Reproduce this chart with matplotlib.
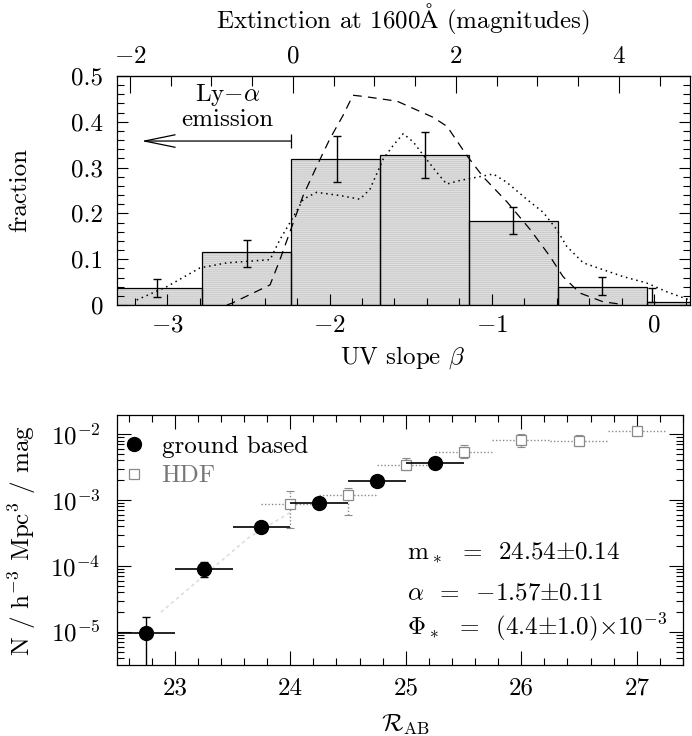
import matplotlib
matplotlib.use("Agg")
import matplotlib.pyplot as plt
from matplotlib.ticker import MultipleLocator, LogLocator, NullFormatter
import numpy as np

plt.rcParams['font.family'] = 'serif'
plt.rcParams['font.serif'] = ['cmr10', 'DejaVu Serif']
plt.rcParams['mathtext.fontset'] = 'cm'
plt.rcParams['axes.formatter.use_mathtext'] = True
plt.rcParams['hatch.linewidth'] = 0.5

# ---------------- top panel data ----------------
beta_edges = [-3.336, -2.787, -2.238, -1.689, -1.141, -0.592, -0.043, 0.506]
frac = [0.038, 0.115, 0.319, 0.327, 0.184, 0.040, 0.007]
err_beta = [-3.064, -2.509, -1.954, -1.412, -0.869, -0.321, -0.012]
err_lo = [0.018, 0.084, 0.268, 0.277, 0.154, 0.022, 0.007]
err_hi = [0.057, 0.143, 0.369, 0.377, 0.214, 0.061, 0.037]

dash_beta = [-2.633, -2.602, -2.472, -2.367, -2.306, -2.232, -2.164, -2.078, -1.998,
             -1.917, -1.856, -1.782, -1.584, -1.363, -1.276, -1.153, -1.054, -0.906,
             -0.764, -0.641, -0.561, -0.456, -0.314, -0.210]
dash_frac = [0.0, 0.004, 0.026, 0.044, 0.099, 0.172, 0.238, 0.304, 0.363,
             0.414, 0.458, 0.455, 0.445, 0.410, 0.390, 0.326, 0.280, 0.225,
             0.165, 0.106, 0.062, 0.026, 0.007, 0.002]

dot_beta = [-3.189, -3.004, -2.799, -2.634, -2.367, -2.306, -2.244, -2.162, -2.080,
            -1.936, -1.813, -1.751, -1.669, -1.607, -1.546, -1.484, -1.422, -1.340,
            -1.278, -1.196, -1.093, -0.991, -0.908, -0.785, -0.682, -0.600, -0.538,
            -0.436, -0.313, -0.190, -0.045, 0.078, 0.210]
dot_frac = [0.011, 0.040, 0.081, 0.092, 0.099, 0.143, 0.180, 0.231, 0.246,
            0.239, 0.231, 0.253, 0.319, 0.349, 0.374, 0.356, 0.327, 0.290,
            0.264, 0.272, 0.279, 0.286, 0.268, 0.231, 0.202, 0.165, 0.128,
            0.092, 0.077, 0.062, 0.048, 0.029, 0.012]

lya_start = -2.238
lya_end = -3.16
lya_y = 0.358

# ---------------- bottom panel data ----------------
ground_mag = [22.75, 23.25, 23.75, 24.25, 24.75, 25.25]
ground_phi = [9.7e-6, 9.1e-5, 3.86e-4, 9.0e-4, 1.96e-3, 3.71e-3]
ground_lo = [1e-7, 6.9e-5, 3.6e-4, 8.4e-4, 1.85e-3, 3.5e-3]
ground_hi = [1.69e-5, 1.15e-4, 4.1e-4, 9.6e-4, 2.08e-3, 3.95e-3]
ground_dm = 0.25

hdf_mag = [24.0, 24.5, 25.0, 25.5, 26.0, 26.5, 27.0]
hdf_phi = [8.7e-4, 1.19e-3, 3.43e-3, 5.45e-3, 8.2e-3, 8.0e-3, 1.13e-2]
hdf_lo = [3.8e-4, 5.9e-4, 2.9e-3, 4.4e-3, 6.3e-3, 6.6e-3, 9.4e-3]
hdf_hi = [1.38e-3, 1.52e-3, 4.4e-3, 6.8e-3, 1.02e-2, 9.6e-3, 1.22e-2]
hdf_dm = 0.25

fit_mag = [22.88, 23.16, 23.64, 24.0]
fit_phi = [2.0e-5, 5.2e-5, 2.7e-4, 6.5e-4]

FS = 18

fig = plt.figure(figsize=(6.92, 7.36), dpi=100)
ax1 = fig.add_axes([117/692, 1-305/736, 573/692, 229/736])
ax2 = fig.add_axes([117/692, 1-665/736, 566/692, 250/736])

# ---------- top panel ----------
edges = np.array(beta_edges)
widths = np.diff(edges)
ax1.bar(edges[:-1], frac, width=widths, align='edge', color='#e0e0e0',
        hatch='--------', edgecolor='#c2c2c2', linewidth=0, zorder=1)
ax1.bar(edges[:-1], frac, width=widths, align='edge', fill=False,
        edgecolor='black', linewidth=0.9, zorder=2)
ax1.errorbar(err_beta, (np.array(err_lo)+np.array(err_hi))/2,
             yerr=(np.array(err_hi)-np.array(err_lo))/2, fmt='none',
             ecolor='black', elinewidth=1.0, capsize=3, capthick=1.0, zorder=3)
ax1.plot(dash_beta, dash_frac, color='black', lw=0.9, dashes=(7, 5), zorder=4)
ax1.plot(dot_beta, dot_frac, color='black', lw=1.1, ls=(0, (1, 2.5)), zorder=4)

ax1.annotate('', xy=(lya_end, lya_y), xytext=(lya_start, lya_y),
             arrowprops=dict(arrowstyle='->,head_length=2.2,head_width=0.45',
                             lw=0.9, color='black', shrinkA=0, shrinkB=0,
                             mutation_scale=10))
ax1.plot([lya_start], [lya_y], marker='|', ms=10, mew=0.9, color='black')
ax1.text(-2.63, 0.458, r'Ly$-\alpha$', ha='center', va='center', fontsize=FS)
ax1.text(-2.63, 0.403, 'emission', ha='center', va='center', fontsize=FS)

ax1.set_xlim((117-654)/162.2, (690-654)/162.2)
ax1.set_ylim(0, 0.5)
ax1.xaxis.set_minor_locator(MultipleLocator(0.2))
ax1.yaxis.set_minor_locator(MultipleLocator(0.02))
ax1.set_yticks([0, 0.1, 0.2, 0.3, 0.4, 0.5])
ax1.set_yticklabels(['0', '0.1', '0.2', '0.3', '0.4', '0.5'])
ax1.set_xticks([-3, -2, -1, 0])
ax1.set_xticklabels([r'$-3$', r'$-2$', r'$-1$', r'$0$'])
ax1.tick_params(which='both', direction='in', top=False, right=True,
                labelsize=FS)
ax1.tick_params(axis='x', pad=7)
ax1.tick_params(axis='y', pad=10)
ax1.tick_params(which='major', length=8, width=0.8)
ax1.tick_params(which='minor', length=5, width=0.8)
ax1.set_xlabel(r'UV slope $\beta$', fontsize=FS)
ax1.xaxis.set_label_coords(0.499, -0.17)
ax1.set_ylabel('fraction', fontsize=FS)
ax1.yaxis.set_label_coords(-0.15, 0.5)

sec = ax1.secondary_xaxis('top', functions=(lambda b: 4.43 + 1.99*b,
                                            lambda a: (a - 4.43)/1.99))
sec.set_xticks([-2, 0, 2, 4])
sec.set_xticklabels([r'$-2$', r'$0$', r'$2$', r'$4$'])
sec.xaxis.set_minor_locator(MultipleLocator(0.5))
sec.tick_params(which='both', direction='in', labelsize=FS, pad=6)
sec.tick_params(which='major', length=12, width=0.8)
sec.tick_params(which='minor', length=7, width=0.8)
sec.set_xlabel(r'Extinction at 1600$\mathrm{\AA}$ (magnitudes)', fontsize=FS,
               labelpad=12)

for sp in ax1.spines.values():
    sp.set_linewidth(0.9)

# ---------- bottom panel ----------
ax2.set_yscale('log')
ax2.plot(fit_mag, fit_phi, color='#dddddd', lw=1.2, ls=(0, (2, 2)), zorder=1)

gm = '#8a8a8a'
hp = np.array(hdf_phi)
eb = ax2.errorbar(hdf_mag, hdf_phi, xerr=hdf_dm, fmt='none', ecolor=gm,
                  elinewidth=1.0, capsize=0, zorder=2)
eb[2][0].set_linestyle((0, (1, 1.5)))
eb2 = ax2.errorbar(hdf_mag, hdf_phi, yerr=[hp-np.array(hdf_lo), np.array(hdf_hi)-hp],
                   fmt='none', ecolor=gm, elinewidth=1.0, capsize=3, capthick=0.8,
                   zorder=2)
eb2[2][0].set_linestyle((0, (1, 1.5)))
ax2.plot(hdf_mag, hdf_phi, ls='none', marker='s', ms=6.5, mfc='white',
         mec=gm, mew=0.9, zorder=3, label='HDF')

gp = np.array(ground_phi)
ax2.errorbar(ground_mag, ground_phi, xerr=ground_dm, fmt='none', ecolor='black',
             elinewidth=1.2, capsize=0, zorder=4)
ax2.errorbar(ground_mag, ground_phi, yerr=[gp-np.array(ground_lo), np.array(ground_hi)-gp],
             fmt='none', ecolor='black', elinewidth=1.0, capsize=3, capthick=1.0,
             zorder=4)
ax2.plot(ground_mag, ground_phi, ls='none', marker='o', ms=10, mfc='black',
         mec='black', zorder=5, label='ground based')

h, l = ax2.get_legend_handles_labels()
leg = ax2.legend(h[::-1], l[::-1], loc='upper left', bbox_to_anchor=(-0.005, 0.96),
                 frameon=False, fontsize=FS, handlelength=0.8, handletextpad=0.7,
                 labelspacing=0.3, borderaxespad=0)
leg.get_texts()[1].set_color('#777777')

ax2.set_xlim(22.5, 27.4)
ax2.set_ylim(10**-5.50, 10**-1.71)
ax2.xaxis.set_minor_locator(MultipleLocator(0.2))
ax2.yaxis.set_major_locator(LogLocator(base=10, numticks=10))
ax2.yaxis.set_minor_locator(LogLocator(base=10, subs=np.arange(2, 10), numticks=10))
ax2.yaxis.set_minor_formatter(NullFormatter())
ax2.set_xticks([23, 24, 25, 26, 27])
ax2.set_xticklabels(['23', '24', '25', '26', '27'])
ax2.tick_params(which='both', direction='in', top=True, right=True,
                labelsize=FS)
ax2.tick_params(axis='x', pad=9)
ax2.tick_params(axis='y', pad=12)
ax2.tick_params(which='major', length=10, width=0.8)
ax2.tick_params(which='minor', length=5, width=0.8)
ax2.set_xlabel(r'$\mathcal{R}_{\rm AB}$', fontsize=FS)
ax2.xaxis.set_label_coords(0.51, -0.19)
ax2.set_ylabel(r'N / h$^{-3}$ Mpc$^3$ / mag', fontsize=FS)
ax2.yaxis.set_label_coords(-0.14, 0.5)

ax2.text(0.513, 0.45, r'm$_*$  =  24.54$\pm$0.14', transform=ax2.transAxes,
         fontsize=FS, va='center', ha='left')
ax2.text(0.513, 0.288, r'$\alpha$  =  $-$1.57$\pm$0.11', transform=ax2.transAxes,
         fontsize=FS, va='center', ha='left')
ax2.text(0.513, 0.153, r'$\Phi_*$  =  (4.4$\pm$1.0)$\times$10$^{-3}$',
         transform=ax2.transAxes, fontsize=FS, va='center', ha='left')

for sp in ax2.spines.values():
    sp.set_linewidth(0.9)

fig.savefig('out.png', dpi=100)
